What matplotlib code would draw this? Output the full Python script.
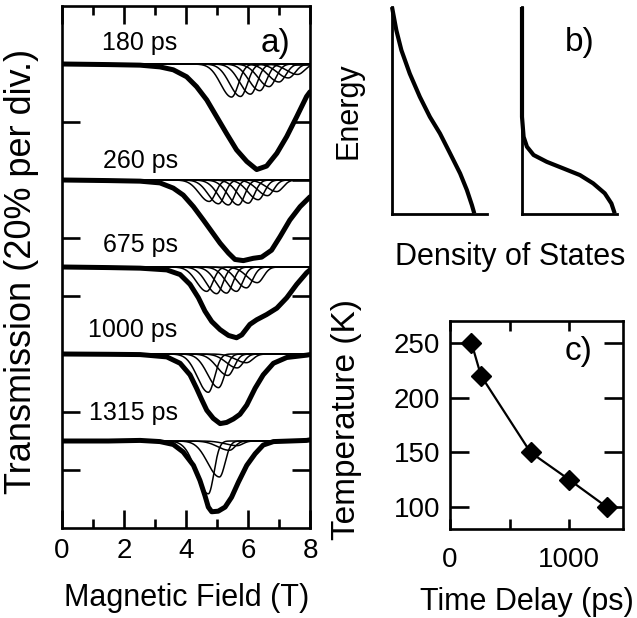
import numpy as np
import matplotlib.pyplot as plt

plt.rcParams['font.family'] = ['Liberation Sans', 'DejaVu Sans']

W, H = 637, 618

### PANEL A DATA ###
# delay labels and the baseline of each trace (in divisions of 20 %)
delays = ['180 ps', '260 ps', '675 ps', '1000 ps', '1315 ps']
baselines = [8, 6, 4.5, 3, 1.5]

field_180 = [0, 1.5, 2.52, 3.16, 3.59, 4.02, 4.34, 4.67, 4.99, 5.31, 5.63, 5.96, 6.28, 6.60, 6.93, 7.25, 7.57, 7.89, 8.0]
trans_180 = [8.0, 7.99, 7.98, 7.95, 7.90, 7.78, 7.61, 7.38, 7.09, 6.80, 6.52, 6.32, 6.18, 6.24, 6.46, 6.75, 7.09, 7.44, 7.52]

field_260 = [0, 1.5, 2.52, 3.16, 3.59, 3.91, 4.24, 4.56, 4.83, 5.10, 5.37, 5.58, 5.85, 6.17, 6.44, 6.76, 7.03, 7.35, 7.68, 8.0]
trans_260 = [6.0, 5.99, 5.98, 5.95, 5.86, 5.74, 5.54, 5.31, 5.11, 4.91, 4.74, 4.63, 4.61, 4.65, 4.67, 4.79, 5.02, 5.31, 5.54, 5.71]

field_675 = [0, 1.5, 2.52, 3.38, 3.81, 4.13, 4.40, 4.61, 4.83, 5.10, 5.37, 5.63, 5.80, 6.06, 6.28, 6.60, 6.93, 7.25, 7.57, 7.89, 8.0]
trans_675 = [4.5, 4.49, 4.48, 4.45, 4.37, 4.20, 3.97, 3.74, 3.56, 3.42, 3.32, 3.28, 3.33, 3.51, 3.59, 3.68, 3.79, 3.97, 4.20, 4.40, 4.45]

field_1000 = [0, 1.5, 2.52, 3.38, 3.81, 4.13, 4.34, 4.51, 4.67, 4.88, 5.10, 5.31, 5.53, 5.74, 5.96, 6.23, 6.49, 6.82, 7.25, 7.89, 8.0]
trans_1000 = [3.0, 2.995, 2.99, 2.95, 2.84, 2.64, 2.41, 2.21, 2.03, 1.89, 1.80, 1.82, 1.88, 1.96, 2.12, 2.41, 2.64, 2.84, 2.94, 2.98, 2.99]

field_1315 = [0, 1.5, 2.52, 3.16, 3.59, 3.91, 4.24, 4.45, 4.61, 4.72, 4.83, 5.04, 5.26, 5.47, 5.69, 5.96, 6.23, 6.49, 6.82, 7.89, 8.0]
trans_1315 = [1.5, 1.5, 1.51, 1.49, 1.44, 1.31, 1.08, 0.82, 0.56, 0.36, 0.28, 0.29, 0.36, 0.53, 0.79, 1.08, 1.28, 1.43, 1.49, 1.51, 1.52]

thick_fields = [field_180, field_260, field_675, field_1000, field_1315]
thick_trans = [trans_180, trans_260, trans_675, trans_1000, trans_1315]

# thin component lines: centre (T) and depth (div.) of each
centers_180 = [5.47, 5.76, 6.08, 6.38, 6.68, 7.0, 7.3, 7.6]
depths_180 = [0.57, 0.56, 0.52, 0.46, 0.39, 0.31, 0.24, 0.18]
centers_260 = [4.75, 5.05, 5.37, 5.69, 6.01, 6.33, 6.63, 6.93]
depths_260 = [0.37, 0.41, 0.43, 0.43, 0.40, 0.34, 0.27, 0.20]
centers_675 = [4.67, 4.99, 5.31, 5.63, 5.95, 6.3]
depths_675 = [0.42, 0.46, 0.45, 0.42, 0.36, 0.27]
centers_1000 = [4.72, 5.05, 5.35, 5.65, 5.95]
depths_1000 = [0.66, 0.58, 0.37, 0.24, 0.15]
centers_1315 = [4.72, 5.08, 5.40, 5.65]
depths_1315 = [0.91, 0.62, 0.16, 0.08]
# left / right widths of the component lines (T)
width_left = [0.35, 0.33, 0.33, 0.35, 0.38]
width_right = [0.22, 0.20, 0.20, 0.20, 0.18]

thin_centers = [centers_180, centers_260, centers_675, centers_1000, centers_1315]
thin_depths = [depths_180, depths_260, depths_675, depths_1000, depths_1315]

### PANEL B DATA ###
# density of states (fraction of bottom axis) vs energy
dos_hot = [0, 0.046, 0.099, 0.187, 0.293, 0.399, 0.505, 0.611, 0.717, 0.788, 0.841, 0.866]
energy_hot = [1.0, 0.887, 0.791, 0.678, 0.566, 0.469, 0.389, 0.293, 0.196, 0.116, 0.043, 0.003]
dos_cold = [0, 0, 0.017, 0.052, 0.122, 0.261, 0.436, 0.610, 0.749, 0.871, 0.941, 0.976]
energy_cold = [1.0, 0.469, 0.373, 0.325, 0.285, 0.252, 0.220, 0.188, 0.148, 0.100, 0.051, 0.003]

### PANEL C DATA ###
delay_ps = [180, 260, 675, 1000, 1315]
temperature_K = [250, 220, 150, 125, 100]


def component(B, c, depth, sl, sr):
    # asymmetric gaussian absorption line
    s = np.where(B < c, sl, sr)
    return depth * np.exp(-0.5 * ((B - c) / s) ** 2)


def px_axes(x0, x1, y0, y1):
    # axes rectangle from pixel edges (y measured from the top)
    return fig.add_axes([x0 / W, 1 - y1 / H, (x1 - x0) / W, (y1 - y0) / H])


def px_text(x, y, s, **kw):
    # figure text placed by pixel position (y from the top)
    return fig.text(x / W, 1 - y / H, s, ha='center', va='center', **kw)


fig = plt.figure(figsize=(W / 100, H / 100), dpi=100)

# ---- panel a ----
axa = px_axes(62, 310, 6, 528)
B = np.linspace(0, 8.2, 600)
for i in range(len(delays)):
    for c, d in zip(thin_centers[i], thin_depths[i]):
        axa.plot(B, baselines[i] - component(B, c, d, width_left[i], width_right[i]),
                 color='black', lw=1.1)
    axa.plot(thick_fields[i], thick_trans[i], color='black', lw=3.6,
             solid_joinstyle='round', solid_capstyle='round')

label_y = [8.24, 6.21, 4.76, 3.29, 1.86]
for lab, y in zip(delays, label_y):
    axa.text(3.73, y, lab, ha='right', va='baseline', fontsize=18)
axa.text(0.859, 0.929, 'a)', transform=axa.transAxes, ha='center', va='center', fontsize=24)

axa.set_xlim(0, 8)
axa.set_ylim(0, 9)
axa.set_xticks([0, 2, 4, 6, 8])
axa.set_xticks([1, 3, 5, 7], minor=True)
axa.set_yticks(np.arange(1, 9))
axa.set_yticklabels([])
axa.tick_params(which='both', direction='in', top=True, right=True, width=1.9, labelsize=20, pad=7)
axa.tick_params(which='major', length=13)
axa.tick_params(which='minor', length=6.5)
for sp in axa.spines.values():
    sp.set_linewidth(1.9)
px_text(187, 598, 'Magnetic Field (T)', fontsize=22)
px_text(22, 271, 'Transmission (20% per div.)', rotation=90, fontsize=26)

# ---- panel b ----
for x0, dos, en in [(392, dos_hot, energy_hot), (522, dos_cold, energy_cold)]:
    axb = px_axes(x0, x0 + 95, 7, 214)
    axb.plot(dos, en, color='black', lw=3.0, clip_on=False, solid_capstyle='butt')
    axb.set_xlim(0, 1)
    axb.set_ylim(0, 1)
    axb.set_xticks([])
    axb.set_yticks([])
    axb.spines['top'].set_visible(False)
    axb.spines['right'].set_visible(False)
    axb.spines['left'].set_linewidth(2.0)
    axb.spines['bottom'].set_linewidth(2.0)
    axb.patch.set_alpha(0)
px_text(348, 111, 'Energy', rotation=90, fontsize=22)
fig.text(510 / W, 1 - 265 / H, 'Density of States', ha='center', va='baseline', fontsize=22)
px_text(580, 43, 'b)', fontsize=24)

# ---- panel c ----
axc = px_axes(450, 623, 321, 529)
axc.plot(delay_ps, temperature_K, color='black', lw=1.6, marker='D', markersize=10)
axc.text(0.746, 0.851, 'c)', transform=axc.transAxes, ha='center', va='center', fontsize=24)
axc.set_xlim(0, 1450)
axc.set_ylim(80, 270)
axc.set_xticks([0, 500, 1000])
axc.set_xticklabels(['0', '', '1000'])
axc.set_yticks([100, 150, 200, 250])
axc.tick_params(direction='in', top=True, right=True, width=1.9, labelsize=20)
axc.tick_params(axis='x', length=7, pad=13)
axc.tick_params(axis='y', length=14, pad=7)
for sp in axc.spines.values():
    sp.set_linewidth(1.9)
px_text(527, 602, 'Time Delay (ps)', fontsize=22)
px_text(347, 420, 'Temperature (K)', rotation=90, fontsize=24)

fig.savefig('out.png', dpi=100)
